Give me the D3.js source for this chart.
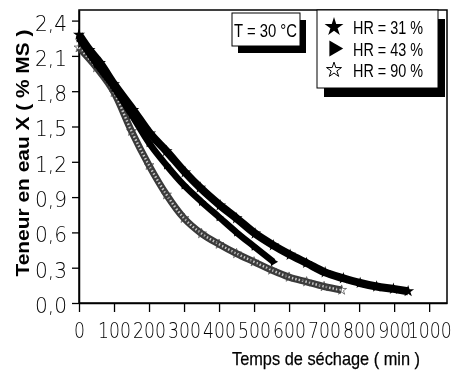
<!DOCTYPE html>
<html>
<head>
<meta charset="utf-8">
<script src="https://cdn.jsdelivr.net/npm/d3@7"></script>
<style>
  body { margin: 0; background: #fff; }
  svg { display: block; will-change: transform; }
</style>
</head>
<body>
<div id="chart"></div>
<script>
// drying curves (time in min, X in % MS)
const timeHR31 = [0, 30, 60, 100, 155, 203, 250, 303, 346, 403, 450, 503, 555, 603, 650, 703, 755, 803, 850, 898, 940];
const waterHR31 = [2.28, 2.15, 2.04, 1.86, 1.64, 1.44, 1.29, 1.11, 0.98, 0.83, 0.72, 0.59, 0.49, 0.41, 0.34, 0.26, 0.21, 0.17, 0.14, 0.12, 0.10];

const timeHR43 = [0, 50, 100, 150, 200, 250, 300, 350, 400, 450, 500, 555];
const waterHR43 = [2.25, 2.03, 1.83, 1.60, 1.36, 1.17, 1.00, 0.86, 0.73, 0.60, 0.48, 0.35];

const timeHR90 = [0, 50, 100, 150, 200, 250, 300, 350, 400, 450, 500, 550, 600, 650, 700, 750];
const waterHR90 = [2.17, 2.00, 1.79, 1.46, 1.17, 0.92, 0.72, 0.59, 0.50, 0.42, 0.35, 0.28, 0.22, 0.18, 0.14, 0.11];

const xTicks = [0, 100, 200, 300, 400, 500, 600, 700, 800, 900, 1000];
const yTicks = [0, 0.3, 0.6, 0.9, 1.2, 1.5, 1.8, 2.1, 2.4];
const legendLabels = ['HR = 31 %', 'HR = 43 %', 'HR = 90 %'];
const tempLabel = 'T = 30 °C';
const xTitle = 'Temps de séchage ( min )';
const yTitle = 'Teneur en eau X ( % MS )';

function createDryingChart(selector) {
    const margin = { top: 10, right: 6, bottom: 73, left: 79 };
    const width = 453;
    const height = 376;
    const innerW = width - margin.left - margin.right;
    const innerH = height - margin.top - margin.bottom;

    const svg = d3.select(selector)
        .append('svg')
        .attr('width', width)
        .attr('height', height);

    svg.append('rect').attr('width', width).attr('height', height).attr('fill', '#fff');

    const chart = svg.append('g')
        .attr('transform', `translate(${margin.left},${margin.top})`);

    const xScale = d3.scaleLinear().domain([0, 1051]).range([0, innerW]);
    const yScale = d3.scaleLinear().domain([0, 2.49]).range([innerH, 0]);

    // frame
    chart.append('rect')
        .attr('width', innerW)
        .attr('height', innerH)
        .attr('fill', 'none')
        .attr('stroke', '#000')
        .attr('stroke-width', 1.5);

    const tickFont = '"DejaVu Sans", sans-serif';
    const labelFont = 'Liberation Sans, Arial, sans-serif';

    const xAxis = chart.append('g')
        .attr('transform', `translate(0,${innerH})`)
        .call(d3.axisBottom(xScale).tickValues(xTicks).tickSize(9).tickPadding(11).tickSizeOuter(0)
            .tickFormat(d3.format('d')));
    xAxis.select('.domain').attr('stroke-width', 1.5);
    xAxis.selectAll('.tick line').attr('stroke-width', 1.3);
    xAxis.selectAll('text')
        .attr('font-family', tickFont)
        .attr('font-weight', 200)
        .attr('font-size', 21)
        .attr('textLength', d => String(d).length * 11)
        .attr('lengthAdjust', 'spacingAndGlyphs')
        .attr('fill', '#000');

    const yAxis = chart.append('g')
        .call(d3.axisLeft(yScale).tickValues(yTicks).tickSize(7).tickPadding(5).tickSizeOuter(0)
            .tickFormat(d => d3.format('.1f')(d).replace('.', ',')));
    yAxis.select('.domain').attr('stroke-width', 1.5);
    yAxis.selectAll('.tick line').attr('stroke-width', 1.3);
    yAxis.selectAll('text')
        .attr('font-family', tickFont)
        .attr('font-weight', 200)
        .attr('font-size', 21)
        .attr('dy', '0.45em')
        .attr('textLength', 32)
        .attr('lengthAdjust', 'spacingAndGlyphs')
        .attr('fill', '#000');

    // axis titles
    svg.append('text')
        .attr('transform', `translate(29,${margin.top + 143}) rotate(-90)`)
        .attr('text-anchor', 'middle')
        .attr('font-family', labelFont)
        .attr('font-size', 18)
        .attr('font-weight', 'bold')
        .attr('textLength', 247)
        .attr('lengthAdjust', 'spacingAndGlyphs')
        .text(yTitle);

    svg.append('text')
        .attr('x', 326)
        .attr('y', 365)
        .attr('text-anchor', 'middle')
        .attr('font-family', labelFont)
        .attr('font-size', 19)
        .attr('stroke', '#000')
        .attr('stroke-width', 0.25)
        .attr('textLength', 188)
        .attr('lengthAdjust', 'spacingAndGlyphs')
        .text(xTitle);

    const line = d3.line()
        .x(d => xScale(d[0]))
        .y(d => yScale(d[1]))
        .curve(d3.curveMonotoneX);

    const s31 = timeHR31.map((t, i) => [t, waterHR31[i]]);
    const s43 = timeHR43.map((t, i) => [t, waterHR43[i]]);
    const s90 = timeHR90.map((t, i) => [t, waterHR90[i]]);

    const star = d3.symbol().type(d3.symbolStar);
    const tri = d3.symbol().type(d3.symbolTriangle);

    // HR = 90 % : open stars, grey textured band
    chart.append('path')
        .datum(s90)
        .attr('d', line)
        .attr('fill', 'none')
        .attr('stroke', '#3a3a3a')
        .attr('stroke-width', 7);
    chart.append('path')
        .datum(s90)
        .attr('d', line)
        .attr('fill', 'none')
        .attr('stroke', '#c8c8c8')
        .attr('stroke-width', 2.5)
        .attr('stroke-dasharray', '1.5,2');
    chart.selectAll('.m90')
        .data(s90)
        .enter()
        .append('path')
        .attr('class', 'm90')
        .attr('transform', d => `translate(${xScale(d[0])},${yScale(d[1])})`)
        .attr('d', star.size(30))
        .attr('fill', 'none')
        .attr('stroke', '#444')
        .attr('stroke-width', 0.7);

    // HR = 43 % : filled triangles
    chart.append('path')
        .datum(s43)
        .attr('d', line)
        .attr('fill', 'none')
        .attr('stroke', '#000')
        .attr('stroke-width', 6.5);
    chart.selectAll('.m43')
        .data(s43)
        .enter()
        .append('path')
        .attr('class', 'm43')
        .attr('transform', d => `translate(${xScale(d[0])},${yScale(d[1])}) rotate(90)`)
        .attr('d', tri.size(30))
        .attr('fill', '#000');

    // HR = 31 % : filled stars
    chart.append('path')
        .datum(s31)
        .attr('d', line)
        .attr('fill', 'none')
        .attr('stroke', '#000')
        .attr('stroke-width', 8);
    chart.selectAll('.m31')
        .data(s31)
        .enter()
        .append('path')
        .attr('class', 'm31')
        .attr('transform', d => `translate(${xScale(d[0])},${yScale(d[1])})`)
        .attr('d', star.size(45))
        .attr('fill', '#000');

    // temperature box with drop shadow
    const tBox = svg.append('g').attr('transform', 'translate(232,13)');
    tBox.append('rect').attr('x', 6).attr('y', 7).attr('width', 68).attr('height', 33).attr('fill', '#000');
    tBox.append('rect').attr('width', 68).attr('height', 33).attr('fill', '#fff').attr('stroke', '#000').attr('stroke-width', 1);
    tBox.append('text')
        .attr('x', 2)
        .attr('y', 24)
        .attr('font-family', labelFont)
        .attr('font-size', 18)
        .attr('textLength', 63)
        .attr('lengthAdjust', 'spacingAndGlyphs')
        .text(tempLabel);

    // legend with drop shadow
    const legend = svg.append('g').attr('transform', 'translate(317,10)');
    legend.append('rect').attr('x', 7).attr('y', 9).attr('width', 121).attr('height', 78).attr('fill', '#000');
    legend.append('rect').attr('width', 121).attr('height', 78).attr('fill', '#fff').attr('stroke', '#000').attr('stroke-width', 1);

    const rows = legend.selectAll('.row')
        .data(legendLabels)
        .enter()
        .append('g')
        .attr('class', 'row')
        .attr('transform', (d, i) => `translate(0,${17 + i * 21.5})`);
    rows.append('path')
        .attr('transform', (d, i) => i === 1 ? 'translate(17,0) rotate(90)' : 'translate(17,0)')
        .attr('d', (d, i) => i === 1 ? tri.size(110)() : star.size(i === 0 ? 110 : 70)())
        .attr('fill', (d, i) => i === 2 ? '#fff' : '#000')
        .attr('stroke', '#000')
        .attr('stroke-width', (d, i) => i === 2 ? 1 : 0);
    rows.append('text')
        .attr('x', 36)
        .attr('y', 7)
        .attr('font-family', labelFont)
        .attr('font-size', 18)
        .attr('textLength', 70)
        .attr('lengthAdjust', 'spacingAndGlyphs')
        .text(d => d);

    return chart;
}

createDryingChart('#chart');
</script>
</body>
</html>
